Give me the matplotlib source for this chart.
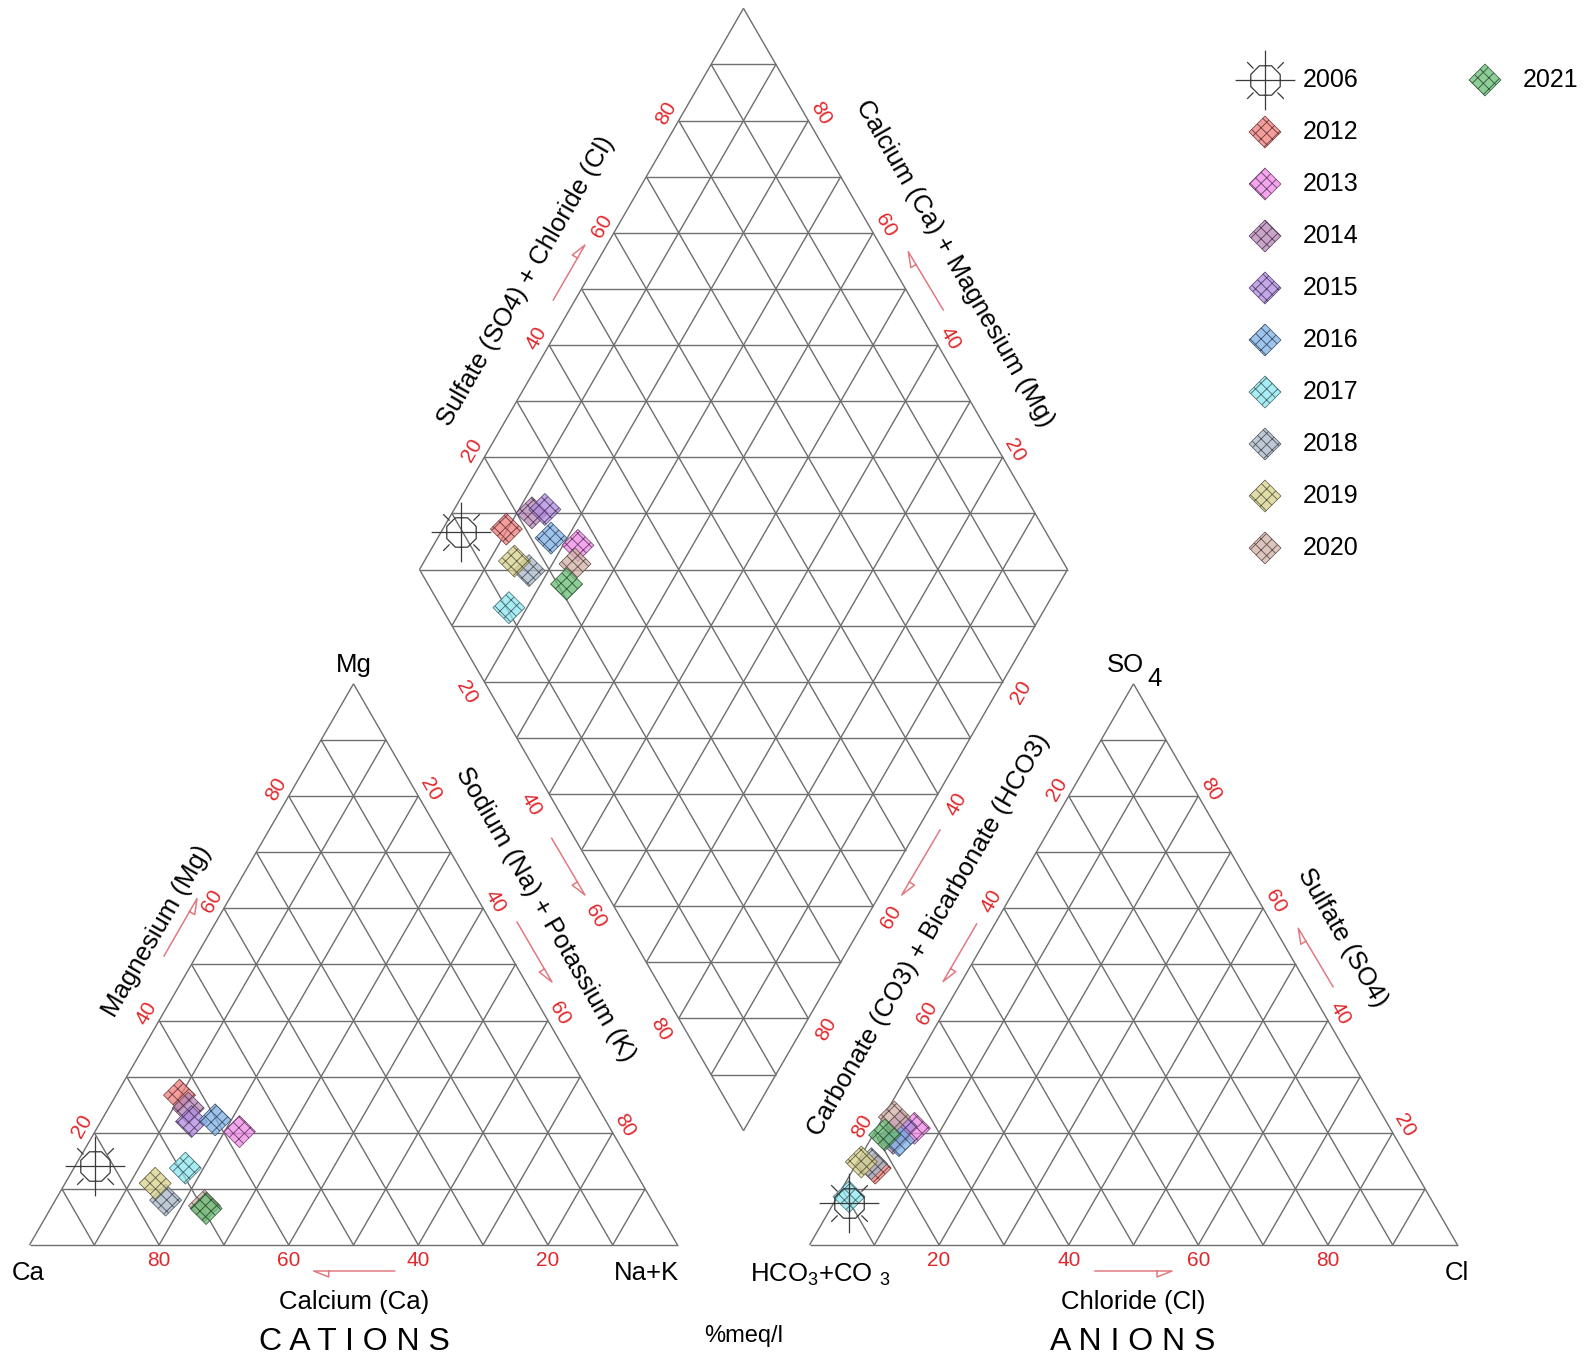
import numpy as np
import matplotlib
matplotlib.use("Agg")
import matplotlib.pyplot as plt
from matplotlib.path import Path
from matplotlib.collections import LineCollection
import matplotlib.colors as mcolors

plt.rcParams["font.family"] = ["Liberation Sans", "DejaVu Sans"]
plt.rcParams["mathtext.fontset"] = "custom"
plt.rcParams["mathtext.rm"] = "Liberation Sans"
plt.rcParams["hatch.linewidth"] = 0.6

# ---------------- data (% meq/l) ----------------
years = ["2006", "2012", "2013", "2014", "2015", "2016", "2017", "2018", "2019", "2020", "2021"]
# cations
ca  = [82.8, 63.5, 57.5, 63.3, 64.0, 60.2, 69.1, 75.0, 75.1, 69.5, 69.5]
mg  = [14.1, 26.7, 20.2, 24.4, 22.0, 22.3, 13.7,  8.0, 11.0,  7.0,  6.5]
nak = [ 3.1,  9.8, 22.3, 12.3, 14.0, 17.5, 17.2, 17.0, 13.9, 23.5, 24.0]
# anions
hco3 = [90.2, 83.0, 73.4, 77.6, 75.3, 76.9, 89.6, 83.2, 84.6, 75.5, 78.6]
so4  = [ 7.4, 13.7, 20.8, 19.0, 21.2, 18.6,  8.6, 14.5, 14.8, 22.8, 19.6]
cl   = [ 2.4,  3.3,  5.8,  3.4,  3.5,  4.5,  1.8,  2.3,  0.6,  1.7,  1.8]
colors = [None, "#f07c7c", "#ee88e6", "#b886b8", "#b08ae0", "#7fb0e6",
          "#8ee6f0", "#a8b8c8", "#d8d28e", "#d2b0a6", "#68bc76"]
tick_values = [20, 40, 60, 80]

# ---------------- geometry ----------------
X0, Y0, S, G = 29.5, 1245.0, 648.0, 132.0
H = S * np.sqrt(3) / 2
BX, BY = X0 + S + G / 2, Y0 - G * np.sqrt(3) / 2
LX, LY = BX - S / 2, BY - H
TX, TY = BX, BY - 2 * H
RX, RY = BX + S / 2, BY - H


def cat_xy(m, n):
    return X0 + S * (n + m / 2) / 100, Y0 - H * m / 100


def an_xy(s, c):
    return X0 + S + G + S * (c + s / 2) / 100, Y0 - H * s / 100


def dia_xy(n, sc):
    return LX + S / 2 * (n + sc) / 100, LY + H * (n - sc) / 100


fig = plt.figure(figsize=(15.87, 13.60), dpi=100)
ax = fig.add_axes([0, 0, 1, 1])
ax.set_xlim(0, 1587)
ax.set_ylim(1360, 0)
ax.axis("off")

GRID = "#6e6e6e"
segs = []


def tri_grid(ox):
    A = np.array([ox, Y0]); Bv = np.array([ox + S, Y0]); C = np.array([ox + S / 2, Y0 - H])
    segs.extend([[A, Bv], [Bv, C], [C, A]])
    for i in range(1, 10):
        f = i / 10
        segs.append([A + f * (C - A), Bv + f * (C - Bv)])
        segs.append([A + f * (Bv - A), A + f * (C - A)])
        segs.append([Bv + f * (A - Bv), Bv + f * (C - Bv)])


tri_grid(X0)
tri_grid(X0 + S + G)
L = np.array([LX, LY]); T = np.array([TX, TY]); B = np.array([BX, BY]); R = np.array([RX, RY])
segs.extend([[L, T], [T, R], [R, B], [B, L]])
for i in range(1, 10):
    f = i / 10
    segs.append([L + f * (B - L), T + f * (R - T)])
    segs.append([L + f * (T - L), B + f * (R - B)])
for k in range(1, 20):
    y = TY + k * H / 10
    hw = (k if k <= 10 else 20 - k) / 10 * S / 2
    segs.append([[TX - hw, y], [TX + hw, y]])
ax.add_collection(LineCollection(segs, colors=GRID, linewidths=1.0, zorder=1))

# ---------------- tick labels ----------------
RED = "#e0282c"
TFS = 15
c60, s60 = np.cos(np.pi / 6), 0.5


def tlab(x, y, nx, ny, d, rot, v):
    ax.text(x + nx * d, y + ny * d, str(v), color=RED, fontsize=TFS, rotation=rot,
            ha="center", va="center", rotation_mode="anchor")


for v in tick_values:
    x, y = X0 + S * (100 - v) / 100, Y0
    ax.text(x, y + 15, str(v), color=RED, fontsize=TFS, ha="center", va="center")
    x, y = cat_xy(v, 0); tlab(x, y, -c60, -s60, 14, 60, v)
    x, y = cat_xy(100 - v, v); tlab(x, y, c60, -s60, 14, -60, v)
    x, y = X0 + S + G + S * v / 100, Y0
    ax.text(x, y + 15, str(v), color=RED, fontsize=TFS, ha="center", va="center")
    x, y = an_xy(100 - v, 0); tlab(x, y, -c60, -s60, 14, 60, v)
    x, y = an_xy(v, 100 - v); tlab(x, y, c60, -s60, 14, -60, v)
    x, y = dia_xy(0, v); tlab(x, y, -c60, -s60, 14, 60, v)
    x, y = dia_xy(100 - v, 100); tlab(x, y, c60, -s60, 14, -60, v)
    x, y = dia_xy(v, 0); tlab(x, y, -c60, s60, 21, -60, v)
    x, y = dia_xy(100, 100 - v); tlab(x, y, c60, s60, 21, 60, v)

# ---------------- arrows ----------------
ACOL = "#e07a80"


def half_arrow(x1, y1, x2, y2, side):
    p1 = np.array([x1, y1]); p2 = np.array([x2, y2])
    u = (p2 - p1) / np.hypot(*(p2 - p1))
    n = np.array([-u[1], u[0]]) * side
    b = p2 - u * 15
    pts = np.array([p1, p2, b + n * 6, b])
    ax.plot(pts[:, 0], pts[:, 1], color=ACOL, lw=1.1, zorder=2)


half_arrow(394.7, 1271, 313.7, 1271, -1)
half_arrow(1095, 1271, 1172, 1271, 1)
half_arrow(164, 956, 197, 898.6, 1)
half_arrow(517, 922, 552, 982, 1)
half_arrow(976.6, 924, 943, 981.6, -1)
half_arrow(1333, 986.7, 1298.3, 928.3, -1)
half_arrow(553.3, 300, 585, 245, -1)
half_arrow(943.3, 310, 908.3, 251.7, -1)
half_arrow(551.7, 838.3, 585, 895, 1)
half_arrow(940, 830, 901.7, 895, -1)

# ---------------- text ----------------
FS = 18.5
ax.text(28, 1273, "Ca", fontsize=FS, ha="center", va="center")
ax.text(646, 1273, "Na+K", fontsize=FS, ha="center", va="center")
ax.text(354, 665, "Mg", fontsize=FS, ha="center", va="center")
ax.text(820, 1275, r"HCO$_\mathregular{3}$+CO $_\mathregular{3}$", fontsize=FS, ha="center", va="center")
ax.text(1457, 1273, "Cl", fontsize=FS, ha="center", va="center")
ax.text(1125, 665, "SO", fontsize=FS, ha="center", va="center")
ax.text(1155, 679, "4", fontsize=FS, ha="center", va="center")

ax.text(354, 1302, "Calcium (Ca)", fontsize=FS, ha="center", va="center")
ax.text(1133, 1302, "Chloride (Cl)", fontsize=FS, ha="center", va="center")
ax.text(354, 1342, "C A T I O N S", fontsize=23, ha="center", va="center")
ax.text(1133, 1342, "A N I O N S", fontsize=23, ha="center", va="center")
ax.text(744, 1336, "%meq/l", fontsize=17, ha="center", va="center")

ax.text(157, 931, "Magnesium (Mg)", fontsize=FS, rotation=60, ha="center", va="center", rotation_mode="anchor")
ax.text(545, 914, "Sodium (Na) + Potassium (K)", fontsize=FS, rotation=-60, ha="center", va="center", rotation_mode="anchor")
ax.text(929, 935, "Carbonate (CO3) + Bicarbonate (HCO3)", fontsize=FS, rotation=60, ha="center", va="center", rotation_mode="anchor")
ax.text(1342, 938, "Sulfate (SO4)", fontsize=FS, rotation=-60, ha="center", va="center", rotation_mode="anchor")
ax.text(526, 281, "Sulfate (SO4) + Chloride (Cl)", fontsize=FS, rotation=60, ha="center", va="center", rotation_mode="anchor")
ax.text(955, 264, "Calcium (Ca) + Magnesium (Mg)", fontsize=FS, rotation=-60, ha="center", va="center", rotation_mode="anchor")

# ---------------- markers ----------------
def sun_path():
    verts, codes = [], []
    ang = np.deg2rad(22.5 + 45 * np.arange(9))
    r = 16
    for i, a in enumerate(ang):
        verts.append((r * np.cos(a), r * np.sin(a)))
        codes.append(Path.MOVETO if i == 0 else Path.LINETO)
    for (a, b) in [((-30, 0), (30, 0)), ((0, -30), (0, 30))]:
        verts += [a, b]; codes += [Path.MOVETO, Path.LINETO]
    for a in np.deg2rad([45, 135, 225, 315]):
        verts += [(17 * np.cos(a), 17 * np.sin(a)), (26 * np.cos(a), 26 * np.sin(a))]
        codes += [Path.MOVETO, Path.LINETO]
    return Path(verts, codes)


SUN = sun_path()


def draw_marker(xs, ys, i):
    if i == 0:
        ax.plot(xs, ys, ls="none", marker=SUN, ms=43, mfc="none", mec="#3a3a3a", mew=0.9, zorder=5)
        return
    rgb = np.array(mcolors.to_rgb(colors[i]))
    dark = mcolors.to_hex(rgb * 0.45)
    plt.rcParams["hatch.color"] = dark
    fc = list(rgb) + [0.75]
    ax.scatter(xs, ys, marker="D", s=265, facecolors=[fc], edgecolors=dark,
               linewidths=0.5, hatch="xxx", zorder=4 + i * 0.01)


for i in range(len(years)):
    cx, cy = cat_xy(mg[i], nak[i])
    axx, ayy = an_xy(so4[i], cl[i])
    dx, dy = dia_xy(nak[i], so4[i] + cl[i])
    draw_marker([cx, axx, dx], [cy, ayy, dy], i)

# ---------------- legend ----------------
for i, yr in enumerate(years):
    if i < 10:
        mx, ty = 1265, 80 + 52 * i
    else:
        mx, ty = 1485, 80
    draw_marker([mx], [ty], i)
    ax.text(mx + 38, ty, yr, fontsize=18, ha="left", va="center")

fig.savefig("out.png", dpi=100)
